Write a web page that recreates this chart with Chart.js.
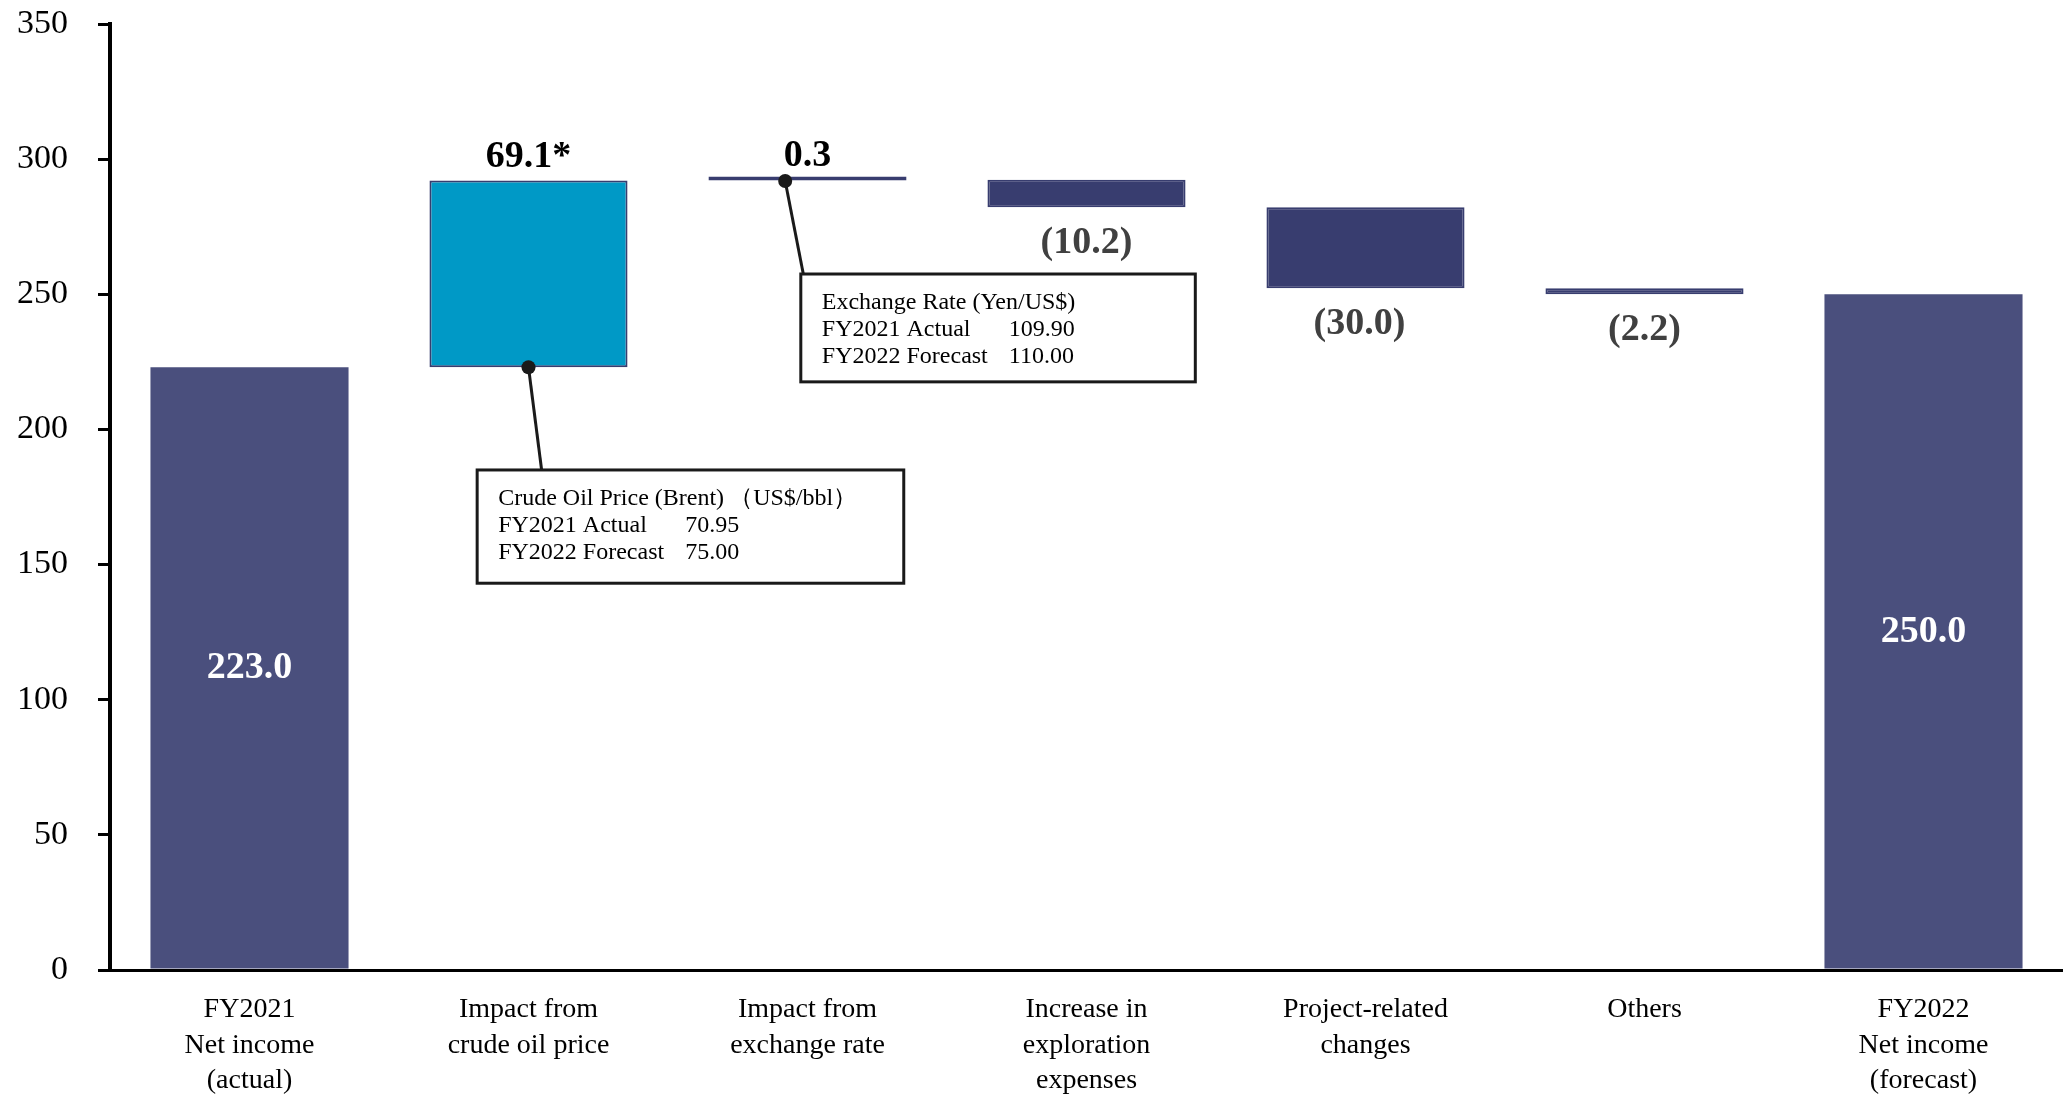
<!DOCTYPE html>
<html lang="en">
<head>
<meta charset="utf-8"/>
<title>Net income waterfall FY2021 - FY2022</title>
<script src="https://cdn.jsdelivr.net/npm/chart.js"></script>
<style>
  body {
    margin: 0;
    padding: 0;
    background-color: #fff;
  }
  .chart-box {
    width: 2063px;
    height: 1094px;
    position: relative;
  }
</style>
</head>
<body>
<div class="chart-box">
<canvas id="waterfallChart"></canvas>
</div>
<script>
  // data
  const categories = [
    ['FY2021', 'Net income', '(actual)'],
    ['Impact from', 'crude oil price'],
    ['Impact from', 'exchange rate'],
    ['Increase in', 'exploration', 'expenses'],
    ['Project-related', 'changes'],
    ['Others'],
    ['FY2022', 'Net income', '(forecast)']
  ];
  const startTotal = 223.0;
  const changes = [69.1, 0.3, -10.2, -30.0, -2.2];
  const endTotal = 250.0;
  const valueLabels = ['223.0', '69.1*', '0.3', '(10.2)', '(30.0)', '(2.2)', '250.0'];
  const yTicks = [0, 50, 100, 150, 200, 250, 300, 350];

  const oilNote = [['Crude Oil Price (Brent)', '（US$/bbl）'], ['FY2021 Actual', '70.95'], ['FY2022 Forecast', '75.00']];
  const fxNote = [['Exchange Rate (Yen/US$)', ''], ['FY2021 Actual', '109.90'], ['FY2022 Forecast', '110.00']];

  // floating bars [low, high]
  const bars = [[0, startTotal]];
  let running = startTotal;
  changes.forEach(c => {
    bars.push([running, running + c]);
    running += c;
  });
  bars.push([0, endTotal]);

  const totalColor = '#4a4f7d';
  const downColor = '#383d6f';
  const oilColor = '#0099c6';
  const isTotal = i => i === 0 || i === bars.length - 1;
  const barColors = bars.map((b, i) => isTotal(i) ? totalColor : (i === 1 ? oilColor : downColor));

  const serif = '"Liberation Serif", "Times New Roman", serif';

  // value labels + the two callout boxes
  const overlay = {
    id: 'overlay',
    afterDatasetsDraw(chart) {
      const ctx = chart.ctx;
      const x = chart.scales.x;
      const y = chart.scales.y;
      ctx.save();
      ctx.textAlign = 'center';
      ctx.textBaseline = 'middle';
      ctx.font = 'bold 38px ' + serif;
      bars.forEach((b, i) => {
        const cx = x.getPixelForValue(i);
        const lo = Math.min(b[0], b[1]);
        const hi = Math.max(b[0], b[1]);
        if (isTotal(i)) {
          ctx.fillStyle = '#fff';
          ctx.fillText(valueLabels[i], cx, y.getPixelForValue((lo + hi) / 2));
        } else if (b[1] >= b[0]) {
          ctx.fillStyle = '#000';
          ctx.fillText(valueLabels[i], cx, y.getPixelForValue(hi) - 23);
        } else {
          ctx.fillStyle = '#404040';
          ctx.fillText(valueLabels[i], cx - (i === 4 ? 6 : 0), y.getPixelForValue(lo) + 36);
        }
      });

      function callout(note, dot, end, box) {
        const dx = x.getPixelForValue(dot[0]);
        const dy = y.getPixelForValue(dot[1]);
        const ex = x.getPixelForValue(end[0]);
        const ey = y.getPixelForValue(end[1]);
        const l = x.getPixelForValue(box[0]);
        const r = x.getPixelForValue(box[1]);
        const t = y.getPixelForValue(box[2]);
        const btm = y.getPixelForValue(box[3]);
        ctx.strokeStyle = '#1a1a1a';
        ctx.lineWidth = 3;
        ctx.beginPath();
        ctx.moveTo(dx, dy);
        ctx.lineTo(ex, ey);
        ctx.stroke();
        ctx.fillStyle = '#1a1a1a';
        ctx.beginPath();
        ctx.arc(dx, dy, 7, 0, Math.PI * 2);
        ctx.fill();
        ctx.fillStyle = '#fff';
        ctx.fillRect(l, t, r - l, btm - t);
        ctx.strokeRect(l, t, r - l, btm - t);
        ctx.fillStyle = '#000';
        ctx.font = '24px ' + serif;
        ctx.textAlign = 'left';
        ctx.textBaseline = 'middle';
        ctx.fillText(note[0][0], l + 21, t + 29);
        ctx.fillText(note[0][1], l + 252, t + 29);
        ctx.fillText(note[1][0], l + 21, t + 56);
        ctx.fillText(note[1][1], l + 208, t + 56);
        ctx.fillText(note[2][0], l + 21, t + 83);
        ctx.fillText(note[2][1], l + 208, t + 83);
      }

      callout(oilNote, [1, startTotal], [1.047, 185.0], [0.816, 2.345, 185.0, 143.1]);
      callout(fxNote, [1.92, bars[2][1] - 0.5], [1.985, 257.5], [1.976, 3.39, 257.5, 217.6]);
      ctx.restore();
    }
  };

  const ctx = document.getElementById('waterfallChart').getContext('2d');
  new Chart(ctx, {
    type: 'bar',
    data: {
      labels: categories,
      datasets: [{
        data: bars,
        backgroundColor: barColors,
        borderColor: bars.map((b, i) => isTotal(i) ? totalColor : downColor),
        borderWidth: bars.map((b, i) => isTotal(i) ? 0 : 2),
        borderSkipped: false,
        minBarLength: 4,
        barPercentage: 0.71,
        categoryPercentage: 1.0
      }]
    },
    options: {
      responsive: true,
      maintainAspectRatio: false,
      animation: false,
      layout: {
        padding: { top: 0, right: 0, bottom: 0, left: 0 }
      },
      plugins: {
        legend: { display: false },
        tooltip: { enabled: false }
      },
      scales: {
        x: {
          grid: { display: false, drawTicks: false },
          border: { display: true, color: '#000', width: 3 },
          ticks: {
            color: '#000',
            padding: 22,
            maxRotation: 0,
            autoSkip: false,
            font: { family: serif, size: 28, lineHeight: 1.27 }
          },
          afterFit(scale) { scale.height = 124; }
        },
        y: {
          min: 0,
          max: 350,
          afterBuildTicks(scale) {
            scale.ticks = yTicks.map(v => ({ value: v }));
          },
          grid: {
            display: true,
            drawOnChartArea: false,
            drawTicks: true,
            tickLength: 12,
            color: '#000',
            lineWidth: 3
          },
          border: { display: true, color: '#000', width: 4 },
          ticks: {
            color: '#000',
            padding: 30,
            font: { family: serif, size: 34 }
          },
          afterFit(scale) {
            scale.width = 110;
            scale.paddingTop = 24;
            scale.paddingBottom = 20;
          }
        }
      }
    },
    plugins: [overlay]
  });
</script>
</body>
</html>
